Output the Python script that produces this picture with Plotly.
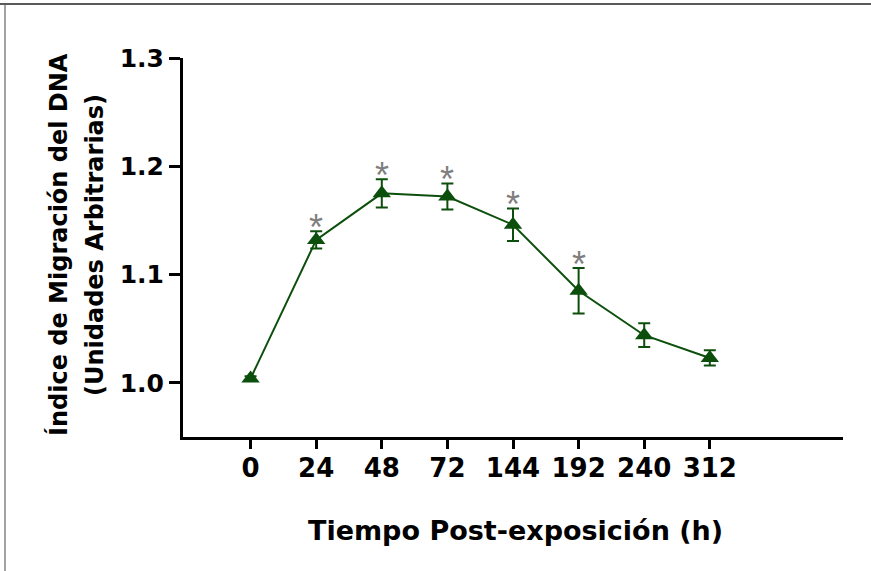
import plotly.graph_objects as go

# ---- data ----
time_labels = ["0", "24", "48", "72", "144", "192", "240", "312"]
dna_index = [1.004, 1.132, 1.175, 1.172, 1.146, 1.085, 1.044, 1.023]
sem = [0.002, 0.008, 0.013, 0.012, 0.015, 0.021, 0.011, 0.007]
significant = [False, True, True, True, True, True, False, False]
y_ticks = [1.0, 1.1, 1.2, 1.3]
y_tick_text = ["1.0", "1.1", "1.2", "1.3"]

y_title_1 = "Índice de Migración del DNA"
y_title_2 = "(Unidades Arbitrarias)"
x_title = "Tiempo Post-exposición (h)"

# ---- layout geometry ----
W, H = 871, 571
ML, MR, MT, MB = 183, 28, 58, 134
PW, PH = W - ML - MR, H - MT - MB


def px(x):
    return (x - ML) / PW


def py(y):
    return 1 - (y - MT) / PH


GREEN = "#0c4f0c"
FONT = "DejaVu Sans"

xs = list(range(len(time_labels)))

fig = go.Figure()
fig.add_trace(go.Scatter(
    x=xs, y=dna_index,
    mode="lines+markers",
    line=dict(color=GREEN, width=2),
    marker=dict(symbol="triangle-up", size=16, color=GREEN),
    error_y=dict(type="data", array=sem, visible=True, color=GREEN,
                 thickness=2, width=6),
    showlegend=False,
))

annotations = []
for x, v, e, s in zip(xs, dna_index, sem, significant):
    if s:
        annotations.append(dict(
            x=x, y=v + e, xref="x", yref="y", text="*", showarrow=False,
            xanchor="center", yanchor="middle", yshift=4,
            font=dict(family="Liberation Sans, Arial", size=36, color="#7f7f7f"),
        ))

annotations += [
    dict(x=px(58), y=py(245), xref="paper", yref="paper", text=y_title_1,
         textangle=-90, showarrow=False, xanchor="center", yanchor="middle",
         font=dict(family=FONT, size=24, color="black", weight="bold")),
    dict(x=px(95), y=py(245), xref="paper", yref="paper", text=y_title_2,
         textangle=-90, showarrow=False, xanchor="center", yanchor="middle",
         font=dict(family=FONT, size=24, color="black", weight="bold")),
    dict(x=px(515), y=py(530), xref="paper", yref="paper", text=x_title,
         showarrow=False, xanchor="center", yanchor="middle",
         font=dict(family=FONT, size=27, color="black", weight="bold")),
]

shapes = [
    dict(type="line", xref="paper", yref="paper", x0=px(0), x1=px(W),
         y0=py(4), y1=py(4), line=dict(color="#222222", width=1.5)),
    dict(type="line", xref="paper", yref="paper", x0=px(5), x1=px(5),
         y0=py(4), y1=py(H), line=dict(color="#666666", width=1.2)),
]

fig.update_layout(
    width=W, height=H,
    margin=dict(l=ML, r=MR, t=MT, b=MB, pad=0),
    paper_bgcolor="white", plot_bgcolor="white",
    annotations=annotations, shapes=shapes,
    xaxis=dict(
        range=[-1.03, 9.03], tickmode="array", tickvals=xs, ticktext=time_labels,
        showline=True, linecolor="black", linewidth=3, showgrid=False,
        zeroline=False, ticks="outside", ticklen=9, tickwidth=3, tickcolor="black",
        tickfont=dict(family=FONT, size=26, color="black", weight="bold"),
        ticklabelstandoff=-3,
    ),
    yaxis=dict(
        range=[0.95, 1.3], tickmode="array", tickvals=y_ticks, ticktext=y_tick_text,
        showline=True, linecolor="black", linewidth=3, showgrid=False,
        zeroline=False, ticks="outside", ticklen=11, tickwidth=3, tickcolor="black",
        tickfont=dict(family=FONT, size=25, color="black", weight="bold"),
    ),
)

fig.write_html("out.html")
